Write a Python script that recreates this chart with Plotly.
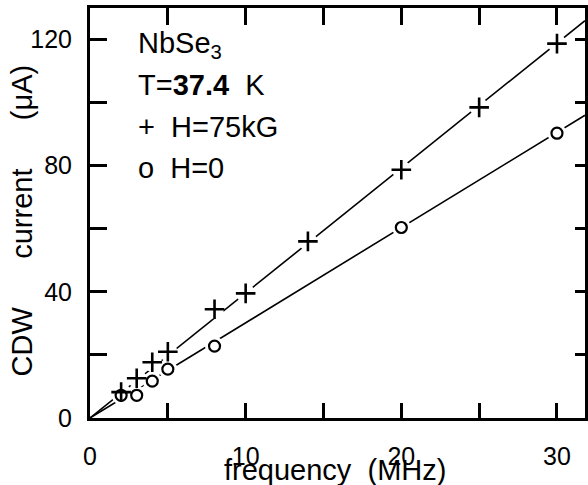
import plotly.graph_objects as go

# ---- data ----
freq_75kG = [2, 3, 4, 5, 8, 10, 14, 20, 25, 30]
cdw_75kG = [8.2, 12.6, 17.7, 21, 34.5, 39.5, 56, 78.7, 98.5, 118.7]
freq_0 = [2, 3, 4, 5, 8, 20, 30]
cdw_0 = [7.2, 7.2, 11.7, 15.5, 22.8, 60.4, 90.3]
fit_x = [0, 31.8]
fit_75kG = [0, 126]
fit_0 = [0, 96]

x_ticks = [0, 5, 10, 15, 20, 25, 30]
x_ticktext = ["0", " ", "10", " ", "20", " ", "30"]
y_ticks = [0, 20, 40, 60, 80, 100, 120]
y_ticktext = ["0", " ", "40", " ", "80", " ", "120"]

FONT = "Liberation Sans, Arial, sans-serif"
NB = "\u00a0"
XR = [0, 31.8]
YR = [0, 130]

fig = go.Figure()
fig.add_trace(go.Scatter(x=fit_x, y=fit_75kG, mode="lines",
                         line=dict(color="black", width=1.6), hoverinfo="skip"))
fig.add_trace(go.Scatter(x=fit_x, y=fit_0, mode="lines",
                         line=dict(color="black", width=1.6), hoverinfo="skip"))
fig.add_trace(go.Scatter(x=freq_75kG + freq_0, y=cdw_75kG + cdw_0, mode="markers",
                         marker=dict(symbol="circle", size=19, color="white",
                                     line=dict(width=0)), hoverinfo="skip"))
fig.add_trace(go.Scatter(x=freq_75kG, y=cdw_75kG, mode="markers",
                         marker=dict(symbol="cross-thin", size=14, color="black",
                                     line=dict(color="black", width=2.6))))
fig.add_trace(go.Scatter(x=freq_0, y=cdw_0, mode="markers",
                         marker=dict(symbol="circle-open", size=11, color="black",
                                     line=dict(color="black", width=2.2))))
# empty traces so the tick-only overlay axes are drawn
fig.add_trace(go.Scatter(x=[None], y=[None], xaxis="x2", yaxis="y2", showlegend=False))
fig.add_trace(go.Scatter(x=[None], y=[None], xaxis="x3", yaxis="y3", showlegend=False))

tick_common = dict(ticks="inside", tickwidth=2.5, tickcolor="black",
                   showticklabels=False, showline=False, showgrid=False,
                   zeroline=False)

fig.update_layout(
    width=588, height=485,
    margin=dict(l=90, r=0, t=8, b=67),
    paper_bgcolor="white", plot_bgcolor="white",
    showlegend=False,
    font=dict(family=FONT, color="black", size=25),
    xaxis=dict(range=XR, tickmode="array", tickvals=x_ticks, ticktext=x_ticktext,
               ticks="", showline=True, linewidth=3, linecolor="black", mirror=True,
               showgrid=False, zeroline=False, tickfont=dict(size=25),
               ticklabelstandoff=14),
    yaxis=dict(range=YR, tickmode="array", tickvals=y_ticks, ticktext=y_ticktext,
               ticks="", showline=True, linewidth=3, linecolor="black", mirror=True,
               showgrid=False, zeroline=False, tickfont=dict(size=25),
               ticklabelstandoff=10),
    # top and right tick marks
    xaxis2=dict(range=XR, overlaying="x", side="top", anchor="y2",
                tickmode="array", tickvals=x_ticks, ticklen=17, **tick_common),
    yaxis2=dict(range=YR, overlaying="y", side="right", anchor="x2",
                tickmode="array", tickvals=y_ticks, ticklen=10, **tick_common),
    # bottom and left tick marks
    xaxis3=dict(range=XR, overlaying="x", side="bottom", anchor="y3",
                tickmode="array", tickvals=x_ticks, ticklen=15, **tick_common),
    yaxis3=dict(range=YR, overlaying="y", side="left", anchor="x3",
                tickmode="array", tickvals=y_ticks, ticklen=17, **tick_common),
)

ann = [
    dict(text="frequency" + NB * 2 + "(MHz)", x=0.494, y=-0.127, textangle=0),
    dict(text="CDW" + NB * 6 + "current" + NB * 6 + "(\u03bcA)", x=-0.1365, y=0.483,
         textangle=-90),
]
for a in ann:
    fig.add_annotation(xref="paper", yref="paper", showarrow=False,
                       xanchor="center", yanchor="middle", font=dict(size=29), **a)

labels = [
    ("NbSe<sub>3</sub>", 0.910),
    ("T=<b>37.4</b>" + NB * 2 + "K", 0.812),
    ("+" + NB * 2 + "H=75kG", 0.710),
    ("o" + NB * 2 + "H=0", 0.610),
]
for txt, yy in labels:
    fig.add_annotation(xref="paper", yref="paper", x=0.092, y=yy, text=txt,
                       showarrow=False, xanchor="left", yanchor="middle",
                       font=dict(size=29))

fig.write_html("out.html", config={"displayModeBar": False},
               post_script="document.body.style.margin='0';document.body.style.overflow='hidden';")
